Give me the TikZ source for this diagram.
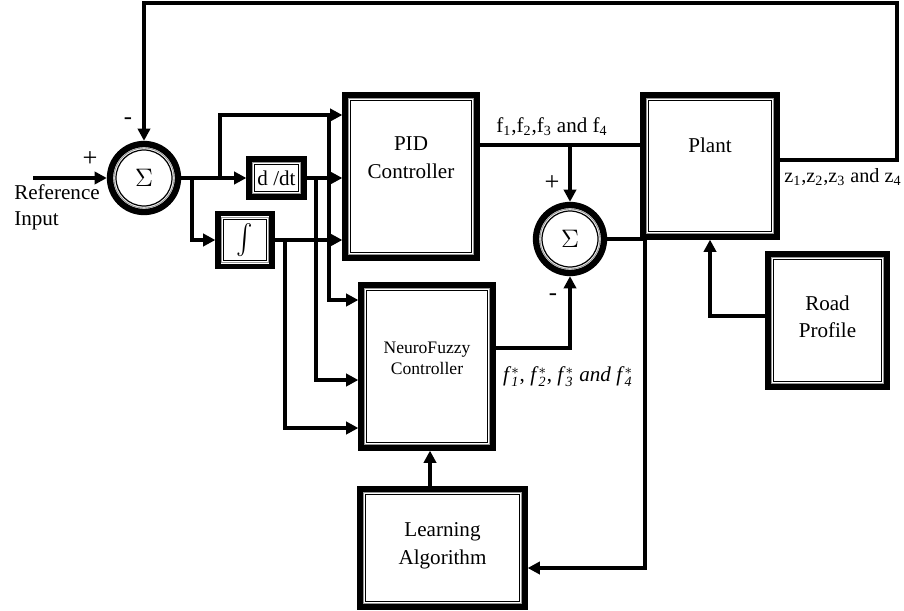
\documentclass[tikz,border=0pt]{standalone}
\usepackage{fontspec}
\usepackage{graphicx}
\setmainfont{Liberation Serif}
\usetikzlibrary{positioning, arrows.meta}
\definecolor{rimgray}{RGB}{150, 150, 150}

\tikzset{
    blk/.style={draw, line width=3pt, fill=white, align=center,
        font=\fontsize{12}{15.5}\selectfont,
        path picture={
            \draw[rimgray, line width=0.5pt]
                ([shift={(2.1pt,2.1pt)}]path picture bounding box.south west) rectangle
                ([shift={(-2.1pt,-2.1pt)}]path picture bounding box.north east);
            \draw[line width=0.7pt]
                ([shift={(3.2pt,3.2pt)}]path picture bounding box.south west) rectangle
                ([shift={(-3.2pt,-3.2pt)}]path picture bounding box.north east);
        }},
    sumnode/.style={circle, draw, line width=3.6pt, fill=white, minimum size=1.36cm,
        inner sep=0pt, font=\fontsize{15}{16}\selectfont,
        path picture={
            \draw[rimgray, line width=0.5pt] (path picture bounding box.center) circle (0.6cm);
            \draw[line width=0.7pt] (path picture bounding box.center) circle (0.56cm);
        }},
    wire/.style={line width=2pt, -{Triangle[length=7pt, width=7pt]}},
    line/.style={line width=2pt},
    lbl/.style={font=\fontsize{12}{13}\selectfont, inner sep=1pt}
}

\newcommand{\fstar}[1]{\textit{f}$_{\mathit{#1}}^{*}$}

\begin{document}
\begin{tikzpicture}

    \useasboundingbox (0, 0) rectangle (18.08, 12.2);

    % summing junctions
    \node[sumnode] (sum1) at (2.88, 8.64) {$\Sigma$};
    \node[sumnode] (sum2) at (11.40, 7.42) {$\Sigma$};

    % blocks
    \node[blk, minimum width=1.1cm, minimum height=0.76cm, inner sep=0pt]
        (ddt) at (5.53, 8.64) {d /dt};
    \node[blk, minimum width=1.08cm, minimum height=1.06cm, inner sep=0pt]
        (integ) at (4.90, 7.40) {\scalebox{1.4}[1.7]{$\int$}};
    \node[blk, minimum width=2.64cm, minimum height=3.26cm, text depth=0.76cm]
        (pid) at (8.22, 8.67) {PID\\Controller};
    \node[blk, minimum width=2.68cm, minimum height=2.84cm, text depth=0.84cm]
        (plant) at (14.20, 8.88) {Plant};
    \node[blk, minimum width=2.64cm, minimum height=3.26cm, text depth=0.32cm,
          font=\fontsize{10}{12}\selectfont]
        (nf) at (8.54, 4.87) {NeuroFuzzy\\Controller};
    \node[blk, minimum width=3.3cm, minimum height=2.36cm, text depth=0.18cm]
        (la) at (8.85, 1.24) {Learning\\Algorithm};
    \node[blk, minimum width=2.38cm, minimum height=2.66cm, text depth=0.16cm]
        (road) at (16.55, 5.79) {Road\\Profile};

    % branch points
    \coordinate (refin) at (0.66, 8.64);
    \coordinate (ibr) at (3.84, 8.64);
    \coordinate (pbr) at (4.40, 8.64);
    \coordinate (ptap) at (6.58, 9.90);
    \coordinate (dtap) at (6.32, 8.64);
    \coordinate (itap) at (5.70, 7.40);
    \coordinate (ftap) at (11.40, 9.30);
    \coordinate (ecor) at (12.90, 0.84);
    \coordinate (fbk) at (17.94, 12.14);

    % connectors
    \draw[wire] (refin) -- (sum1.west);
    \draw[wire] (sum1.east) -- (ddt.west);
    \draw[wire] (pbr) |- (ptap -| pid.west);
    \draw[wire] (ibr) |- (integ.west);
    \draw[wire] (ddt.east) -- (ddt.east -| pid.west);
    \draw[wire] (integ.east) -- (integ.east -| pid.west);
    \draw[wire] (ptap) |- ([yshift=1.33cm]nf.west);
    \draw[wire] (dtap) |- ([yshift=-0.27cm]nf.west);
    \draw[wire] (itap) |- ([yshift=-1.23cm]nf.west);
    \draw[line] ([yshift=0.63cm]pid.east) -- ([yshift=0.63cm]pid.east -| plant.west);
    \draw[wire] (ftap) -- (sum2.north);
    \draw[wire] ([yshift=0.37cm]nf.east) -| (sum2.south);
    \draw[wire] (sum2.east) -| (ecor) -- (ecor -| la.east);
    \draw[wire] ([xshift=-0.25cm]la.north) -- ([xshift=-0.25cm]la.north |- nf.south);
    \draw[wire] ([yshift=0.09cm]road.west) -| (plant.south);
    \draw[wire] ([yshift=0.12cm]plant.east) -| (fbk) -| (sum1.north);

    % labels
    \node[lbl, font=\fontsize{15}{15}\selectfont] (plusref) at (1.80, 9.02) {+};
    \node[lbl, font=\fontsize{14}{14}\selectfont] (minusfb) at (2.56, 9.78) {-};
    \node[lbl, align=left, font=\fontsize{12}{15}\selectfont]
        (reflbl) at (1.14, 8.06) {Reference\\Input};
    \node[lbl] (flbl) at (11.04, 9.66) {f\textsubscript{1},f\textsubscript{2},f\textsubscript{3} and f\textsubscript{4}};
    \node[lbl, font=\fontsize{15}{15}\selectfont] (pluspid) at (11.04, 8.54) {+};
    \node[lbl, font=\fontsize{14}{14}\selectfont] (minusnf) at (11.06, 6.26) {-};
    \node[lbl, font=\fontsize{11.5}{13}\selectfont]
        (zlbl) at (16.86, 8.66) {z\textsubscript{1},z\textsubscript{2},z\textsubscript{3} and z\textsubscript{4}};
    \node[lbl] (fslbl) at (11.36, 4.66) {\fstar{1}, \fstar{2}, \fstar{3} \textit{and} \fstar{4}};

\end{tikzpicture}
\end{document}
